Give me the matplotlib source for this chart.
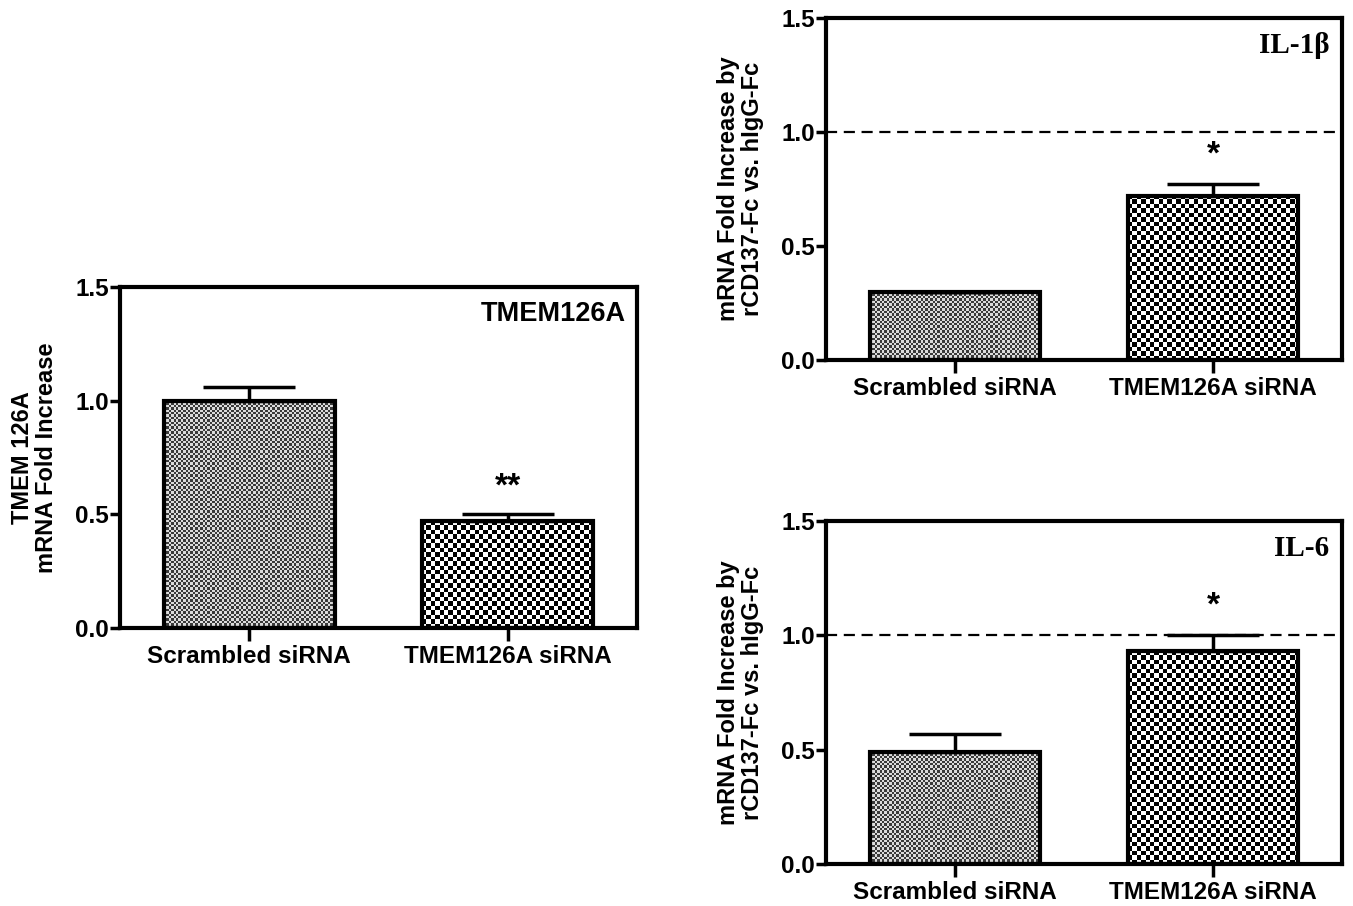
import numpy as np
import matplotlib.pyplot as plt
from matplotlib.colors import ListedColormap

# data
groups = ['Scrambled siRNA', 'TMEM126A siRNA']

tmem_mean = [1.00, 0.47]
tmem_err = [0.06, 0.03]

il1b_mean = [0.30, 0.72]
il1b_err = [0.00, 0.05]

il6_mean = [0.49, 0.93]
il6_err = [0.08, 0.07]

plt.rcParams['font.family'] = 'Liberation Sans'
plt.rcParams['font.weight'] = 'bold'

fig = plt.figure(figsize=(13.53, 9.06), dpi=100)
W, H = 1353, 906


def axes_px(left, top, right, bottom):
    return fig.add_axes([left / W, 1 - bottom / H, (right - left) / W, (bottom - top) / H])


def checker(ax, bar, cell, c1, c2):
    x0, y0 = bar.get_x(), bar.get_y()
    w, h = bar.get_width(), bar.get_height()
    p0 = ax.transData.transform((x0, y0))
    p1 = ax.transData.transform((x0 + w, y0 + h))
    nx = max(1, int(round((p1[0] - p0[0]) / cell)))
    ny = max(1, int(round((p1[1] - p0[1]) / cell)))
    pat = np.add.outer(np.arange(ny), np.arange(nx)) % 2
    ax.imshow(pat, extent=(x0, x0 + w, y0, y0 + h), cmap=ListedColormap([c1, c2]),
              interpolation='nearest', aspect='auto', clip_path=bar, zorder=1)


def panel(ax, means, errs, title, serif_title, ylabel, stars, star_y):
    x = np.arange(len(means))
    ax.set_xlim(-0.5, 1.5)
    ax.set_ylim(0, 1.5)
    bars = ax.bar(x, means, width=0.66, facecolor='none', edgecolor='black',
                  linewidth=3.0, zorder=3)
    checker(ax, bars[0], 2.4, '#3a3a3a', '#dcdcdc')
    checker(ax, bars[1], 4.4, 'black', 'white')
    ax.set_xlim(-0.5, 1.5)
    ax.set_ylim(0, 1.5)
    ax.errorbar(x, means, yerr=[[0] * len(errs), errs], fmt='none', ecolor='black',
                elinewidth=2.5, capsize=33, capthick=2.5, zorder=2)
    ax.text(1, star_y, stars, ha='center', va='center', fontsize=24, fontweight='bold')
    if serif_title:
        ax.text(0.975, 0.92, title, transform=ax.transAxes, ha='right', va='center',
                fontsize=21, fontweight='bold', family='Liberation Serif')
    else:
        ax.text(0.978, 0.92, title, transform=ax.transAxes, ha='right', va='center',
                fontsize=19.5, fontweight='bold')
    ax.set_yticks([0.0, 0.5, 1.0, 1.5])
    ax.set_yticklabels(['0.0', '0.5', '1.0', '1.5'])
    ax.set_xticks(x)
    ax.set_xticklabels(groups)
    ax.tick_params(axis='both', labelsize=17.5, width=2.5, length=7, direction='out')
    ax.tick_params(axis='x', length=9, pad=3)
    ax.tick_params(axis='y', pad=1)
    for s in ax.spines.values():
        s.set_linewidth(3.0)
    ax.set_ylabel(ylabel, fontsize=17, fontweight='bold', labelpad=12, linespacing=1.1)


ax1 = axes_px(120, 287, 637, 628)
panel(ax1, tmem_mean, tmem_err, 'TMEM126A', False, 'TMEM 126A\nmRNA Fold Increase', '**', 0.62)

ax2 = axes_px(826, 18, 1342, 360)
panel(ax2, il1b_mean, il1b_err, 'IL-1β', True,
      'mRNA Fold Increase by\nrCD137-Fc vs. hIgG-Fc', '*', 0.90)
ax2.axhline(1.0, color='black', linestyle=(0, (5, 3)), linewidth=1.6, zorder=0)

ax3 = axes_px(826, 521, 1342, 864)
panel(ax3, il6_mean, il6_err, 'IL-6', True,
      'mRNA Fold Increase by\nrCD137-Fc vs. hIgG-Fc', '*', 1.13)
ax3.axhline(1.0, color='black', linestyle=(0, (5, 3)), linewidth=1.6, zorder=0)

fig.savefig('out.png', dpi=100)
